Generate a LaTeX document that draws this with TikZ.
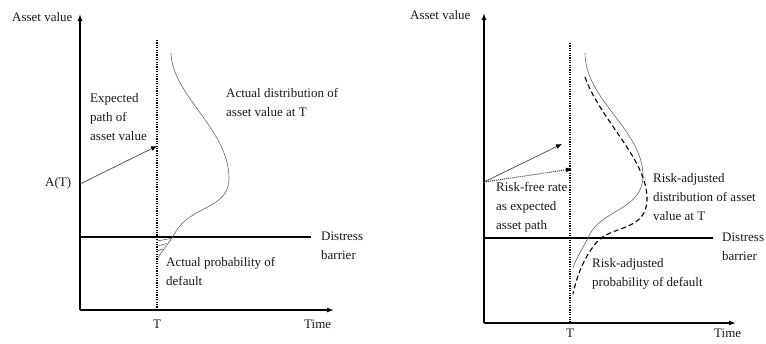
\documentclass[tikz,border=0pt]{standalone}
\usepackage{fontspec}
\setmainfont{Liberation Serif}
\usetikzlibrary{arrows.meta}
\begin{document}
\begin{tikzpicture}[x=1pt,y=-1pt,
  lbl/.style={font=\fontsize{13}{19}\selectfont, text=black!90, inner sep=0pt, align=left, anchor=north west},
  axis/.style={line width=1.3pt, -{Latex[length=7pt,width=5pt]}},
  barrier/.style={line width=1.6pt},
  tline/.style={line width=1.2pt, dash pattern=on 1.2pt off 1.2pt},
  dist/.style={draw=black!60, line width=0.6pt},
  rdist/.style={draw=black, line width=1.1pt, dash pattern=on 5pt off 3pt},
  path/.style={draw=black!65, line width=0.8pt, -{Latex[length=6pt,width=5pt,color=black]}},
  hatch/.style={draw=black!70, line width=0.5pt}]
\useasboundingbox (0,0) rectangle (766,343);
% ---------- left panel ----------
\coordinate (Lo) at (80,310);
\coordinate (Ly) at (80,14);
\coordinate (Lx) at (334,310);
\draw[axis] (Lo) -- (Ly);
\draw[axis] (Lo) -- (Lx);
\coordinate (Lt1) at (157,40);
\coordinate (Lt2) at (157,310);
\draw[tline] (Lt1) -- (Lt2);
\coordinate (Lb1) at (80,237);
\coordinate (Lb2) at (311,237);
\draw[barrier] (Lb1) -- (Lb2);
\coordinate (La) at (80,184);
\coordinate (Le) at (157,146);
\draw[path] (La) -- (Le);
\draw[dist] (171,53) .. controls (172,95) and (229,130) .. (229,178)
  .. controls (229,210) and (190,205) .. (175,233)
  .. controls (168,245) and (161,252) .. (158,258);
\draw[hatch] (157,241) -- (171,238.5);
\draw[hatch] (157,246) -- (167,243.5);
\draw[hatch] (157,251) -- (163,249);
\node[lbl] (Lav) at (12,12) {Asset value};
\node[lbl] (LAT) at (45,177) {A(T)};
\node[lbl] (Lexp) at (90,93) {Expected\\path of\\asset value};
\node[lbl] (Ldist) at (226,88) {Actual distribution of\\asset value at T};
\node[lbl] (Lbar) at (321,232) {Distress\\barrier};
\node[lbl] (Lpd) at (166,257) {Actual probability of\\default};
\node[lbl] (LT) at (153,320) {T};
\node[lbl] (Ltime) at (304,320) {Time};
% ---------- right panel ----------
\coordinate (Ro) at (484,323);
\coordinate (Ry) at (484,13);
\coordinate (Rx) at (736,323);
\draw[axis] (Ro) -- (Ry);
\draw[axis] (Ro) -- (Rx);
\coordinate (Rt1) at (570,43);
\coordinate (Rt2) at (570,323);
\draw[tline] (Rt1) -- (Rt2);
\coordinate (Rb1) at (484,238);
\coordinate (Rb2) at (713,238);
\draw[barrier] (Rb1) -- (Rb2);
\coordinate (Ra) at (484,182);
\coordinate (Re) at (562,144);
\coordinate (Rr) at (572,169);
\draw[path] (Ra) -- (Re);
\draw[path, draw=black!80, line width=1pt, dash pattern=on 1pt off 1pt] (Ra) -- (Rr);
\draw[dist] (585,53) .. controls (585,100) and (643,130) .. (643,176)
  .. controls (643,210) and (600,210) .. (589,236)
  .. controls (582,250) and (576,258) .. (573,268);
\draw[rdist] (585,77) .. controls (600,120) and (648,160) .. (647,200)
  .. controls (646,232) and (610,225) .. (596,243)
  .. controls (582,260) and (576,280) .. (573,294);
\node[lbl] (Rav) at (410,10) {Asset value};
\node[lbl] (Rrf) at (496,182) {Risk-free rate\\as expected\\asset path};
\node[lbl] (Rdist) at (653,173) {Risk-adjusted\\distribution of asset\\value at T};
\node[lbl] (Rbar) at (722,233) {Distress\\barrier};
\node[lbl] (Rpd) at (592,258) {Risk-adjusted\\probability of default};
\node[lbl] (RT) at (566,329) {T};
\node[lbl] (Rtime) at (714,329) {Time};
\end{tikzpicture}
\end{document}
